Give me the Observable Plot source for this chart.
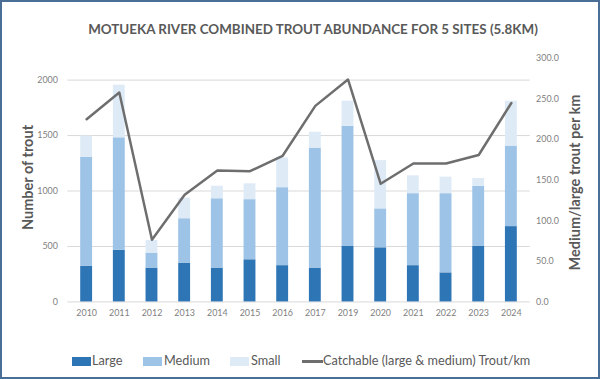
<!DOCTYPE html>
<html>
<head>
<meta charset="utf-8">
<script src="https://cdn.jsdelivr.net/npm/d3@7"></script>
<script src="https://cdn.jsdelivr.net/npm/@observablehq/plot@0.6"></script>
<style>
  html, body { margin: 0; padding: 0; background: #fff; }
  #chart { position: relative; width: 600px; height: 379px; box-sizing: border-box;
           border: 2px solid #4a6f96; overflow: hidden; font-family: Lato, "Open Sans", sans-serif; background:#fff; }
  #title { position: absolute; left: 0; width: 622px; top: 19px; text-align: center;
           font-weight: bold; font-size: 13.4px; color: #595959; letter-spacing: 0px; }
  #plot { position: absolute; left: -2px; top: 43px; }
  .ytitle { position: absolute; font-weight: bold; font-size: 14.5px; color: #595959; white-space: nowrap;
            transform-origin: center center; }
  .leg { position: absolute; top: 350px; font-size: 12.7px; color: #595959; white-space: nowrap; }
  .sw { position: absolute; top: 355px; height: 9px; width: 19px; }
  .lsw { position: absolute; top: 358px; height: 3px; width: 21px; background: #6e6e6e; }
</style>
</head>
<body>
<div id="chart">
  <div id="title">MOTUEKA RIVER COMBINED TROUT ABUNDANCE FOR 5 SITES (5.8KM)</div>
  <div id="plot"></div>
  <div class="ytitle" id="ylt">Number of trout</div>
  <div class="ytitle" id="yrt">Medium/large trout per km</div>
  <div class="sw" style="left:70px;background:#2e75b6"></div><div class="leg" style="left:90px">Large</div>
  <div class="sw" style="left:141px;background:#9dc3e6"></div><div class="leg" style="left:162px">Medium</div>
  <div class="sw" style="left:228px;background:#deebf7"></div><div class="leg" style="left:249px">Small</div>
  <div class="lsw" style="left:300px"></div><div class="leg" style="left:321px">Catchable (large &amp; medium) Trout/km</div>
</div>
<script>
const years = ["2010","2011","2012","2013","2014","2015","2016","2017","2019","2020","2021","2022","2023","2024"];
const large  = [320, 465, 305, 350, 305, 380, 327, 305, 500, 488, 327, 262, 500, 679];
const medium = [985, 1015, 135, 400, 625, 542, 703, 1082, 1083, 351, 649, 714, 542, 726];
const small  = [190, 475, 115, 185, 113, 143, 268, 143, 227, 435, 161, 149, 71, 405];
const catchable = [225, 258, 76.5, 132, 162, 161, 180, 241.5, 274, 145.5, 170.5, 170.5, 181, 245];
const sizeClasses = ["Large", "Medium", "Small"];
const leftTicks = [0, 500, 1000, 1500, 2000];
const rightTicks = [0, 50, 100, 150, 200, 250, 300];

const leftMax = 2196, rightMax = 300;
const k = leftMax / rightMax;

const bars = [];
years.forEach((y, i) => {
  bars.push({year: y, cls: "Large", value: large[i]});
  bars.push({year: y, cls: "Medium", value: medium[i]});
  bars.push({year: y, cls: "Small", value: small[i]});
});
const line = years.map((y, i) => ({year: y, v: catchable[i] * k}));

const chart = Plot.plot({
  width: 604,
  height: 292,
  marginTop: 13,
  marginBottom: 33,
  marginLeft: 68,
  marginRight: 69,
  style: {fontFamily: "Lato, 'Open Sans', sans-serif", color: "#7f7f7f", background: "transparent"},
  x: {type: "band", domain: years, paddingInner: 0.65, paddingOuter: 0.325, label: null},
  y: {domain: [0, leftMax], label: null},
  color: {domain: sizeClasses, range: ["#2e75b6", "#9dc3e6", "#deebf7"]},
  marks: [
    Plot.gridY(leftTicks, {stroke: "#d9d9d9", strokeOpacity: 1, strokeWidth: 1}),
    Plot.barY(bars, {x: "year", y: "value", fill: "cls", order: sizeClasses}),
    Plot.lineY(line, {x: "year", y: "v", stroke: "#6e6e6e", strokeWidth: 2.5}),
    Plot.axisY(leftTicks, {anchor: "left", tickSize: 0, tickPadding: 10, fontSize: 9, label: null,
      tickFormat: d => String(d), fill: "#7f7f7f"}),
    Plot.axisY(rightTicks.map(t => t * k), {anchor: "right", tickSize: 0, tickPadding: 6, fontSize: 9, label: null,
      tickFormat: d => (d / k).toFixed(1), fill: "#7f7f7f"}),
    Plot.axisX({tickSize: 0, tickPadding: 8, fontSize: 9, label: null, fill: "#7f7f7f"})
  ]
});
document.getElementById("plot").appendChild(chart);

function place(id, cx, cy) {
  const el = document.getElementById(id);
  const w = el.offsetWidth, h = el.offsetHeight;
  el.style.left = (cx - w / 2) + "px";
  el.style.top = (cy - h / 2) + "px";
  el.style.transform = "rotate(-90deg)";
}
place("ylt", 25, 175);
place("yrt", 573, 180);
</script>
</body>
</html>
